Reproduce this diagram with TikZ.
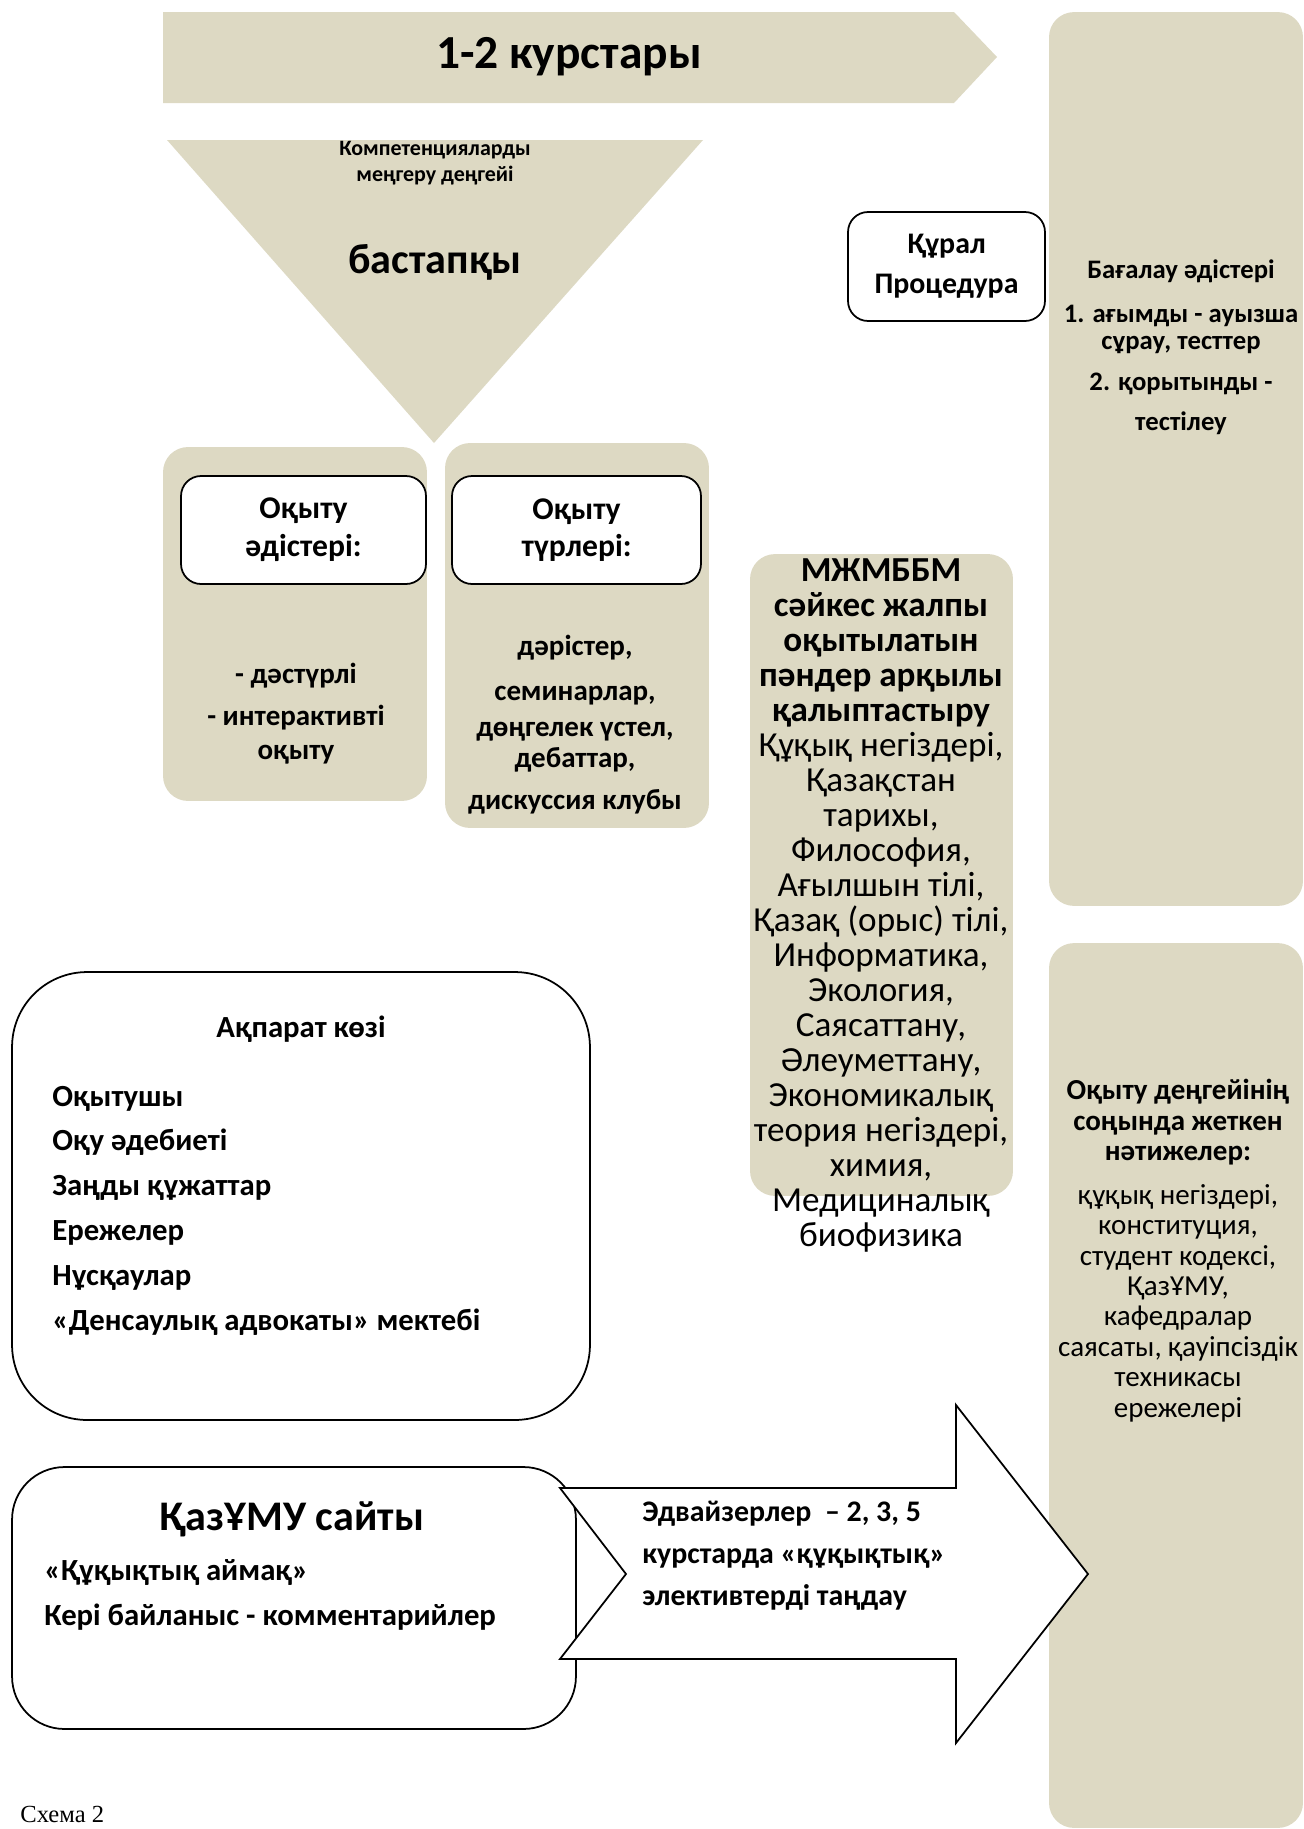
\documentclass[tikz,border=0pt]{standalone}
\usepackage{fontspec}
\setmainfont{Carlito}
\newfontfamily\schemefont{Liberation Serif}
\usetikzlibrary{positioning}
\definecolor{panelbg}{HTML}{DDD9C3}

\begin{document}
\begin{tikzpicture}
[x=0.02cm, y=-0.02cm,
tanfill/.style ={fill=panelbg},
panel/.style ={rectangle, fill=panelbg, rounded corners=0.5cm, inner sep=0pt},
headbox/.style ={rectangle, draw=black, line width=1pt, fill=white, rounded corners=0.4cm, inner sep=0pt, align=center, font=\bfseries\fontsize{18}{21.5}\selectfont},
roundbox/.style ={rectangle, draw=black, line width=1pt, fill=white, inner sep=0pt},
bannertext/.style ={font=\bfseries\fontsize{27}{32}\selectfont},
leveltext/.style ={align=center, font=\bfseries\fontsize{12.5}{14.7}\selectfont},
bigtext/.style ={align=center, font=\bfseries\fontsize{24}{28}\selectfont},
bodytext/.style ={align=center, font=\bfseries\fontsize{16.5}{19.3}\selectfont},
colbold/.style ={align=center, font=\bfseries\fontsize{15.2}{15.3}\selectfont},
colreg/.style ={align=center, font=\fontsize{16.5}{17.3}\selectfont},
midcol/.style ={align=center, font=\fontsize{20}{19.9}\selectfont},
leftlist/.style ={anchor=west, align=left, inner sep=0pt, font=\bfseries\fontsize{17.5}{25.5}\selectfont}]
\useasboundingbox (0,0) rectangle (1303,1829);
% top band and level triangle
\fill[tanfill] (163,12) -- (954,12) -- (997,57) -- (954,103) -- (163,103) -- cycle;
\draw (569,57) node[bannertext] (courses) {1-2 курстары};
\fill[tanfill] (167,140) -- (703,140) -- (434,443) -- cycle;
\draw (435,163) node[leveltext] (level) {Компетенцияларды\\меңгеру деңгейі};
\draw (435,262) node[bigtext] (start) {бастапқы};
% teaching methods and forms
\draw (295,624) node[panel, minimum width=5.28cm, minimum height=7.08cm] (methods) {};
\draw (303.5,530) node[headbox, minimum width=4.9cm, minimum height=2.16cm] (methodshead) {Оқыту\\әдістері:};
\draw (296,714) node[bodytext] (methodslist) {- дәстүрлі\\[4.5pt]- интерактивті\\оқыту};
\draw (577,635.5) node[panel, minimum width=5.28cm, minimum height=7.7cm] (forms) {};
\draw (576.5,530) node[headbox, minimum width=4.98cm, minimum height=2.16cm] (formshead) {Оқыту\\түрлері:};
\draw (575,724.5) node[bodytext] (formslist) {дәрістер,\\[6.8pt]семинарлар,\\[1.1pt]дөңгелек үстел,\\[-1.7pt]дебаттар,\\[4.5pt]дискуссия клубы};
% tool
\draw (946.5,266.5) node[headbox, minimum width=3.94cm, minimum height=2.18cm, font=\bfseries\fontsize{17}{22.7}\selectfont] (tool) {Құрал\\Процедура};
% right columns
\draw (1176,459) node[panel, minimum width=5.08cm, minimum height=17.88cm] (assess) {};
\draw (1181,347) node[colbold] (assesstext) {Бағалау әдістері\\[9.6pt]1. ағымды - ауызша\\сұрау, тесттер\\[8pt]2. қорытынды -\\[7.4pt]тестілеу};
\draw (1176,1385.5) node[panel, minimum width=5.08cm, minimum height=17.7cm] (results) {};
\draw (1178,1250.5) node[colreg] (resultstext) {\textbf{Оқыту деңгейінің}\\\textbf{соңында жеткен}\\\textbf{нәтижелер:}\\[7.7pt]құқық негіздері,\\конституция,\\студент кодексі,\\ҚазҰМУ,\\кафедралар\\саясаты, қауіпсіздік\\техникасы\\ережелері};
% subjects
\draw (881.5,875) node[panel, minimum width=5.26cm, minimum height=12.84cm] (subjects) {};
\draw (881,905.5) node[midcol] (subjectstext) {\textbf{МЖМББМ}\\\textbf{сәйкес жалпы}\\\textbf{оқытылатын}\\\textbf{пәндер арқылы}\\\textbf{қалыптастыру}\\Құқық негіздері,\\Қазақстан\\тарихы,\\Философия,\\Ағылшын тілі,\\Қазақ (орыс) тілі,\\Информатика,\\Экология,\\Саясаттану,\\Әлеуметтану,\\Экономикалық\\теория негіздері,\\химия,\\Медициналық\\биофизика};
% information sources
\draw (301,1196) node[roundbox, rounded corners=1.5cm, minimum width=11.56cm, minimum height=8.96cm] (info) {};
\draw (301,1029) node[bodytext, font=\bfseries\fontsize{17.5}{21}\selectfont] (infotitle) {Ақпарат көзі};
\draw (52,1210.5) node[leftlist] (infolist) {Оқытушы\\Оқу әдебиеті\\Заңды құжаттар\\Ережелер\\Нұсқаулар\\«Денсаулық адвокаты» мектебі};
% site and advisers arrow
\draw (294,1598) node[roundbox, rounded corners=1.05cm, minimum width=11.28cm, minimum height=5.24cm] (site) {};
\draw (292,1519) node[bigtext] (sitetitle) {ҚазҰМУ сайты};
\draw (44,1595) node[leftlist, font=\bfseries\fontsize{17.5}{26}\selectfont] (sitelist) {«Құқықтық аймақ»\\Кері байланыс - комментарийлер};
\draw[line width=1pt, fill=white] (560,1488) -- (956,1488) -- (956,1405) -- (1088,1574) -- (956,1743) -- (956,1659) -- (560,1659) -- (626,1574) -- cycle;
\draw (642,1556) node[leftlist, font=\bfseries\fontsize{17}{23.8}\selectfont] (advisers) {Эдвайзерлер~ – 2, 3, 5\\курстарда «құқықтық»\\элективтерді таңдау};
\draw (20,1822) node[anchor=base west, inner sep=0pt, font=\schemefont\fontsize{14}{16}\selectfont] (caption) {Схема 2};
\end{tikzpicture}
\end{document}
